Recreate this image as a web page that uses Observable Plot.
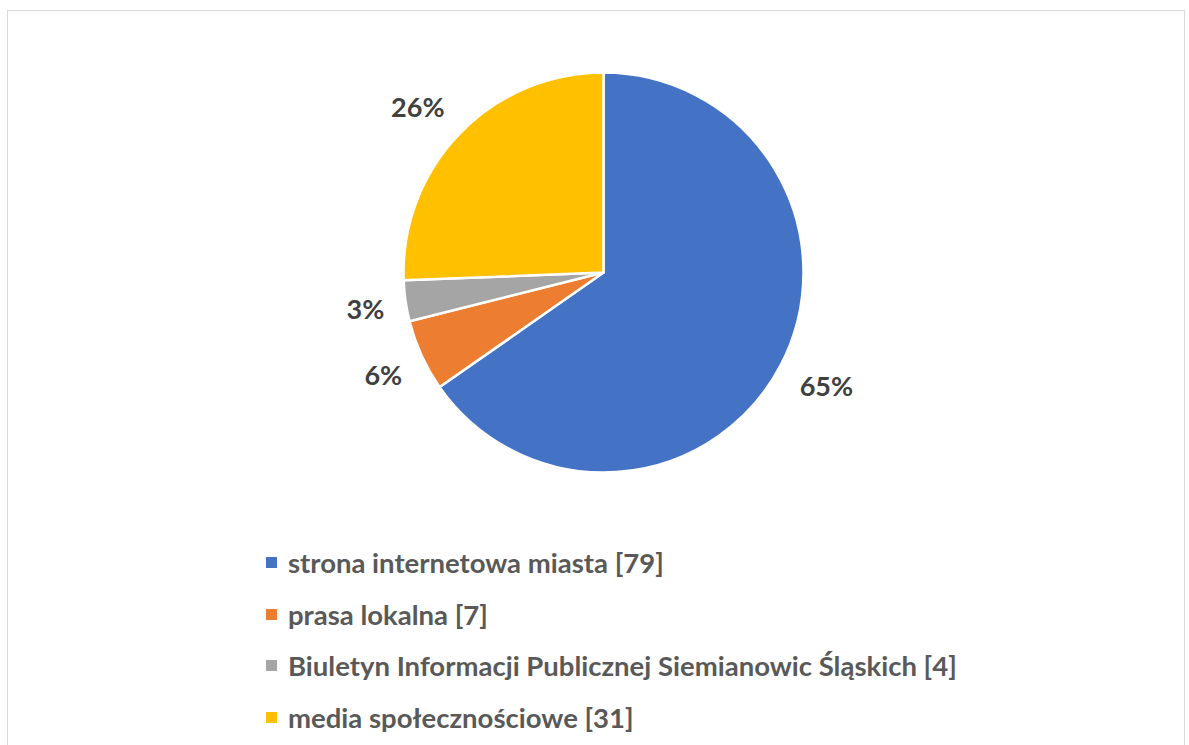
<!DOCTYPE html>
<html>
<head>
<meta charset="utf-8">
<script src="https://cdn.jsdelivr.net/npm/d3@7"></script>
<script src="https://cdn.jsdelivr.net/npm/@observablehq/plot@0.6"></script>
<style>
  html, body { margin: 0; padding: 0; background: #fff; }
  #wrap { position: relative; width: 1189px; height: 745px; overflow: hidden; }
  #frame { position: absolute; left: 7px; top: 10px; width: 1178px; height: 800px; border: 1.5px solid #d9d9d9; box-sizing: border-box; pointer-events: none; }
  #chart { position: absolute; left: 0; top: 0; }
  #legend { position: absolute; left: 0; top: 537px; font-family: Lato, "Open Sans", sans-serif; font-weight: 700; color: #595959; font-size: 27.5px; }
  .row { display: flex; align-items: center; height: 51.5px; white-space: nowrap; }
  .sw { width: 11px; height: 11px; margin-left: 266px; margin-right: 11px; flex: none; }
</style>
</head>
<body>
<div id="wrap">
  <div id="chart"></div>
  <div id="legend"></div>
  <div id="frame"></div>
</div>
<script>
const categories = ["strona internetowa miasta", "prasa lokalna", "Biuletyn Informacji Publicznej Siemianowic Śląskich", "media społecznościowe"];
const counts = [79, 7, 4, 31];
const percentLabels = ["65%", "6%", "3%", "26%"];
const colors = ["#4472C4", "#ED7D31", "#A5A5A5", "#FFC000"];

const W = 1189, H = 530, CX = 603.5, CY = 272.5, R = 200;

const pie = d3.pie().sort(null).value(d => d.count);
const rows = categories.map((c, i) => ({category: c, count: counts[i], label: percentLabels[i], color: colors[i]}));
const arcs = pie(rows);

const labelR = 1.12;
const labels = arcs.map(a => {
  const mid = (a.startAngle + a.endAngle) / 2;
  const s = Math.sin(mid), c = Math.cos(mid);
  return {label: a.data.label, x: labelR * s, y: labelR * c + 0.086 * c - 0.015, side: s >= 0 ? "right" : "left"};
});

function pieMark(index, scales) {
  const cx = scales.x(0), cy = scales.y(0);
  const r = scales.x(1) - scales.x(0);
  const arcGen = d3.arc().innerRadius(0).outerRadius(r);
  const g = d3.create("svg:g").attr("transform", `translate(${cx},${cy})`);
  g.selectAll("path").data(arcs).join("path")
    .attr("d", arcGen)
    .attr("fill", d => d.data.color)
    .attr("stroke", "#fff")
    .attr("stroke-width", 2.5)
    .attr("stroke-linejoin", "round");
  return g.node();
}

const textStyle = {x: "x", y: "y", text: "label", fontSize: 27, fontWeight: 700, fill: "#404040", fontFamily: "Lato, 'Open Sans', sans-serif"};

const chart = Plot.plot({
  width: W, height: H,
  margin: 0,
  x: {domain: [-CX / R, (W - CX) / R], axis: null},
  y: {domain: [-(H - CY) / R, CY / R], axis: null},
  style: {background: "transparent"},
  marks: [
    pieMark,
    Plot.text(labels.filter(d => d.side === "right"), {...textStyle, textAnchor: "start", dx: -3}),
    Plot.text(labels.filter(d => d.side === "left"), {...textStyle, textAnchor: "end", dx: 2})
  ]
});
document.getElementById("chart").appendChild(chart);

const legend = document.getElementById("legend");
rows.forEach(d => {
  const row = document.createElement("div");
  row.className = "row";
  const sw = document.createElement("span");
  sw.className = "sw";
  sw.style.background = d.color;
  const t = document.createElement("span");
  t.textContent = `${d.category} [${d.count}]`;
  row.appendChild(sw);
  row.appendChild(t);
  legend.appendChild(row);
});
</script>
</body>
</html>
